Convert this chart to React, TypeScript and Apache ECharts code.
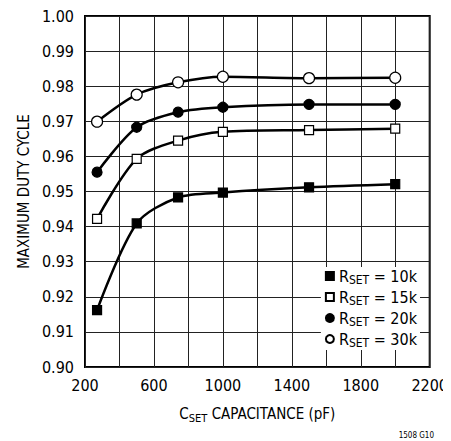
import React, { useEffect, useRef } from "react";
import * as echarts from "echarts";

const capacitance = [270, 500, 740, 1000, 1500, 2000];
const rset10k = [0.9162, 0.9409, 0.9483, 0.9497, 0.9512, 0.9521];
const rset15k = [0.9422, 0.9593, 0.9645, 0.967, 0.9675, 0.9679];
const rset20k = [0.9555, 0.9683, 0.9726, 0.974, 0.9748, 0.9748];
const rset30k = [0.9699, 0.9776, 0.9811, 0.9827, 0.9823, 0.9824];
const seriesNames = ["10k", "15k", "20k", "30k"];
const xTickLabels = [200, 600, 1000, 1400, 1800, 2200];
const yTickLabels = [0.9, 0.91, 0.92, 0.93, 0.94, 0.95, 0.96, 0.97, 0.98, 0.99, 1.0];

const FONT = "'DejaVu Sans Condensed', 'Liberation Sans Narrow', 'Liberation Sans', sans-serif";

export default function App() {
  const ref = useRef<HTMLDivElement>(null);
  useEffect(() => {
    if (!ref.current) return;
    const chart = echarts.init(ref.current, undefined, { renderer: "svg" });
    const allData = [rset10k, rset15k, rset20k, rset30k];
    const symbols = ["rect", "rect", "circle", "circle"];
    const fills = ["#000", "#fff", "#000", "#fff"];
    const sizes = [9, 9, 10, 11];
    const series = allData.map((vals, i) => ({
      name: seriesNames[i],
      type: "line",
      data: capacitance.map((c, j) => [c, vals[j]]),
      smooth: 0.3,
      symbol: symbols[i],
      symbolSize: sizes[i],
      showAllSymbol: true,
      lineStyle: { color: "#000", width: 2.5 },
      itemStyle: { color: fills[i], borderColor: "#000", borderWidth: 1.2, opacity: 1 },
      z: 3,
    }));
    chart.setOption({
      animation: false,
      textStyle: { fontFamily: FONT },
      grid: {
        left: 70,
        right: 21,
        top: 8,
        bottom: 74,
        show: true,
        borderColor: "#000",
        borderWidth: 2,
        backgroundColor: "transparent",
      },
      legend: {
        orient: "vertical",
        right: 31,
        top: 259,
        backgroundColor: "#fff",
        padding: [1, 3, 1, 4],
        itemGap: 3,
        itemWidth: 8,
        itemHeight: 8,
        data: seriesNames.map((n, i) => ({
          name: n,
          icon: symbols[i] === "rect" ? "rect" : "circle",
        })),
        formatter: (n: string) => `{n|R}{s|SET}{n| = ${n}}`,
        textStyle: {
          fontFamily: FONT,
          color: "#000",
          rich: {
            n: { fontSize: 16, fontFamily: FONT, color: "#000", height: 18 },
            s: { fontSize: 12, fontFamily: FONT, color: "#000", height: 18, padding: [8, 0, 0, 0] },
          },
        },
      },
      xAxis: {
        type: "value",
        min: 200,
        max: 2200,
        interval: 200,
        name: "{n|C}{s|SET}{n| CAPACITANCE (pF)}",
        nameLocation: "middle",
        nameGap: 34,
        nameTextStyle: {
          rich: {
            n: { fontSize: 15, fontFamily: FONT, color: "#000", height: 18 },
            s: { fontSize: 11, fontFamily: FONT, color: "#000", height: 18, padding: [8, 0, 0, 0] },
          },
        },
        axisLine: { show: false },
        axisTick: { show: false },
        splitLine: { show: true, lineStyle: { color: "#222", width: 1 } },
        axisLabel: {
          fontSize: 16,
          fontFamily: FONT,
          color: "#000",
          margin: 10,
          formatter: (v: number) => (xTickLabels.includes(v) ? String(v) : ""),
        },
      },
      yAxis: {
        type: "value",
        min: 0.9,
        max: 1.0,
        interval: 0.01,
        name: "MAXIMUM DUTY CYCLE",
        nameLocation: "middle",
        nameGap: 54,
        nameTextStyle: { fontSize: 15, fontFamily: FONT, color: "#000" },
        axisLine: { show: false },
        axisTick: { show: false },
        splitLine: { show: true, lineStyle: { color: "#222", width: 1 } },
        axisLabel: {
          fontSize: 16,
          fontFamily: FONT,
          color: "#000",
          margin: 11,
          formatter: (v: number) => {
            const t = yTickLabels.find((y) => Math.abs(y - v) < 1e-6);
            return t !== undefined ? t.toFixed(2) : "";
          },
        },
      },
      graphic: [
        {
          type: "text",
          right: 17,
          bottom: 2,
          style: { text: "1508 G10", fontSize: 8, fontFamily: FONT, fill: "#000" },
        },
      ],
      series,
    });
    return () => chart.dispose();
  }, []);
  return <div ref={ref} style={{ width: 443, height: 433 }} />;
}
